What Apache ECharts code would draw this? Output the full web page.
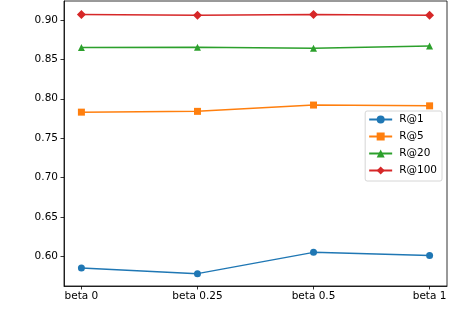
<!DOCTYPE html>
<html>
<head>
<meta charset="utf-8">
<script src="https://cdn.jsdelivr.net/npm/echarts@6/dist/echarts.min.js"></script>
<style>
  html, body { margin: 0; padding: 0; background: #fff; }
  #chart-container { width: 468px; height: 336px; }
</style>
</head>
<body>
<div id="chart-container"></div>
<script>
var categories = ["beta 0", "beta 0.25", "beta 0.5", "beta 1"];
var r1 = [0.585, 0.578, 0.605, 0.601];
var r5 = [0.783, 0.784, 0.792, 0.791];
var r20 = [0.865, 0.8655, 0.864, 0.867];
var r100 = [0.907, 0.906, 0.907, 0.906];
var yTicks = [0.6, 0.65, 0.7, 0.75, 0.8, 0.85, 0.9];

var dom = document.getElementById("chart-container");
var myChart = echarts.init(dom, null, { renderer: "canvas" });

function pts(vals) {
  return vals.map(function (v, i) { return [i, v]; });
}

function makeSeries(name, vals, color, symbol, size) {
  return {
    name: name,
    type: "line",
    data: pts(vals),
    symbol: symbol,
    symbolSize: size,
    showSymbol: true,
    lineStyle: { color: color, width: 1.5 },
    itemStyle: { color: color },
    emphasis: { disabled: true },
    z: 3,
  };
}

var font = "DejaVu Sans";

var option = {
  animation: false,
  grid: {
    left: 64,
    right: 21,
    top: 1,
    bottom: 50,
    show: true,
    borderColor: "#000",
    borderWidth: 0.8,
    backgroundColor: "transparent",
  },
  legend: {
    right: 26,
    top: 111,
    orient: "vertical",
    itemWidth: 23,
    itemHeight: 10,
    itemGap: 6,
    padding: [3, 5, 5, 3],
    backgroundColor: "rgba(255,255,255,0.8)",
    borderColor: "#cccccc",
    borderWidth: 0.8,
    borderRadius: 2,
    textStyle: { fontFamily: font, fontSize: 10.5, color: "#000", padding: [0, 0, 0, 2] },
    data: ["R@1", "R@5", "R@20", "R@100"],
  },
  xAxis: {
    type: "value",
    min: -0.15,
    max: 3.15,
    splitLine: { show: false },
    axisLine: { show: true, onZero: false, lineStyle: { color: "#000", width: 0.8 } },
    axisTick: { show: true, length: 3.5, lineStyle: { color: "#000", width: 0.8 }, customValues: [0, 1, 2, 3] },
    axisLabel: {
      customValues: [0, 1, 2, 3],
      formatter: function (v) { return categories[Math.round(v)]; },
      fontFamily: font,
      fontSize: 10.5,
      color: "#000",
      margin: 5,
    },
  },
  yAxis: {
    type: "value",
    min: 0.5623,
    max: 0.9241,
    splitLine: { show: false },
    axisLine: { show: true, onZero: false, lineStyle: { color: "#000", width: 0.8 } },
    axisTick: { show: true, length: 3.5, lineStyle: { color: "#000", width: 0.8 }, customValues: yTicks },
    axisLabel: {
      customValues: yTicks,
      formatter: function (v) { return v.toFixed(2); },
      fontFamily: font,
      fontSize: 10.5,
      color: "#000",
      margin: 6,
    },
  },
  series: [
    makeSeries("R@1", r1, "#1f77b4", "circle", 7),
    makeSeries("R@5", r5, "#ff7f0e", "rect", 7),
    makeSeries("R@20", r20, "#2ca02c", "triangle", 7),
    makeSeries("R@100", r100, "#d62728", "diamond", 9),
  ],
};

myChart.setOption(option);
window.addEventListener("resize", myChart.resize);
</script>
</body>
</html>
